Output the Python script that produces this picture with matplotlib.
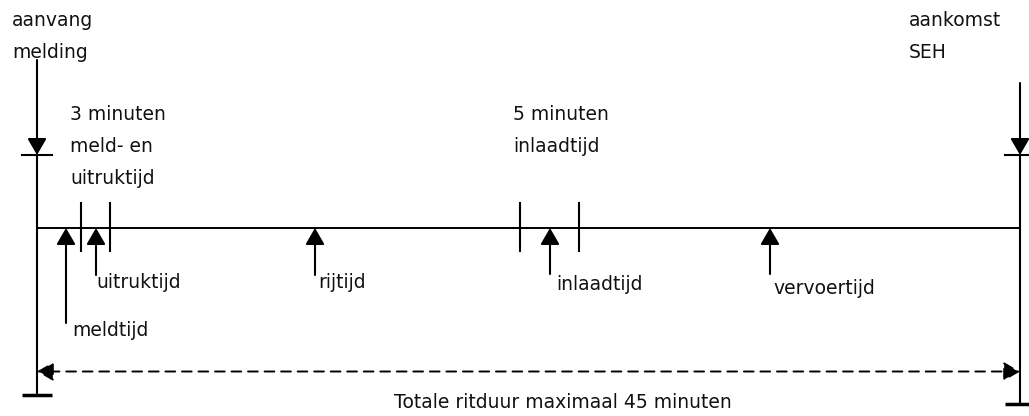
import matplotlib.pyplot as plt

# timeline schematic (positions in diagram units, not to scale)
segment_labels = ['meldtijd', 'uitruktijd', 'rijtijd', 'inlaadtijd', 'vervoertijd']
segment_x = [66, 96, 315, 550, 770]
segment_tail = [323, 275, 275, 274, 274]
label_y = [330, 283, 283, 284, 288]
label_dx = [6, 0, 3, 6, 3]

tick_x = [81, 110, 520, 579]

group_texts = [['3 minuten', 'meld- en', 'uitruktijd'], ['5 minuten', 'inlaadtijd']]
group_x = [70, 513]

start_label = ['aanvang', 'melding']
end_label = ['aankomst', 'SEH']
total_label = 'Totale ritduur maximaal 45 minuten'

X0, X1 = 37, 1020
LINE_Y = 228
FS = 13.5

fig = plt.figure(figsize=(10.29, 4.16), dpi=100)
ax = fig.add_axes([0, 0, 1, 1])
ax.set_xlim(0, 1029)
ax.set_ylim(416, 0)
ax.axis('off')

lw = 1.5
txt = '#111111'
# main time axis
ax.plot([X0, X1], [LINE_Y, LINE_Y], color='black', lw=1.4)
# vertical boundaries
ax.plot([X0, X0], [155, 395], color='black', lw=lw)
ax.plot([X1, X1], [155, 404], color='black', lw=lw)
ax.plot([X0 - 15, X0 + 15], [155, 155], color='black', lw=lw)
ax.plot([X1 - 15, X1 + 15], [155, 155], color='black', lw=lw)
ax.plot([X0 - 15, X0 + 15], [395, 395], color='black', lw=2.5, solid_capstyle='butt')
ax.plot([X1 - 15, X1 + 15], [404, 404], color='black', lw=2.5, solid_capstyle='butt')

arrow = dict(arrowstyle='-|>,head_length=1.0,head_width=0.58', color='black',
             lw=lw, shrinkA=0, shrinkB=0, mutation_scale=10)
# incoming arrows at start and end
ax.annotate('', xy=(X0, 155), xytext=(X0, 60), arrowprops=arrow)
ax.annotate('', xy=(X1, 155), xytext=(X1, 83), arrowprops=arrow)

# start / end labels
for i, t in enumerate(start_label):
    ax.text(12, 20 + 32 * i, t, fontsize=FS, color=txt, va='center', ha='left')
for i, t in enumerate(end_label):
    ax.text(909, 20 + 32 * i, t, fontsize=FS, color=txt, va='center', ha='left')

# short ticks delimiting fixed-duration segments
for x in tick_x:
    ax.plot([x, x], [203, 251], color='black', lw=lw)

# group annotation texts
for gx, lines in zip(group_x, group_texts):
    for i, t in enumerate(lines):
        ax.text(gx, 115 + 32 * i, t, fontsize=FS, color=txt, va='center', ha='left')

# upward arrows for each segment
for name, x, tail, ly, dx in zip(segment_labels, segment_x, segment_tail, label_y, label_dx):
    ax.annotate('', xy=(x, LINE_Y), xytext=(x, tail), arrowprops=arrow)
    ax.text(x + dx, ly, name, fontsize=FS, color=txt, va='center', ha='left')

# total duration dashed arrow
dash = dict(arrowstyle='<|-|>,head_length=1.0,head_width=0.58', color='black',
            lw=1.4, ls=(0, (5, 3.5)), shrinkA=0, shrinkB=0, mutation_scale=10)
ax.annotate('', xy=(X0, 371.5), xytext=(X1, 371.5), arrowprops=dash)
ax.text(563, 402, total_label, fontsize=FS, color=txt, va='center', ha='center')

fig.savefig('out.png', dpi=100)
